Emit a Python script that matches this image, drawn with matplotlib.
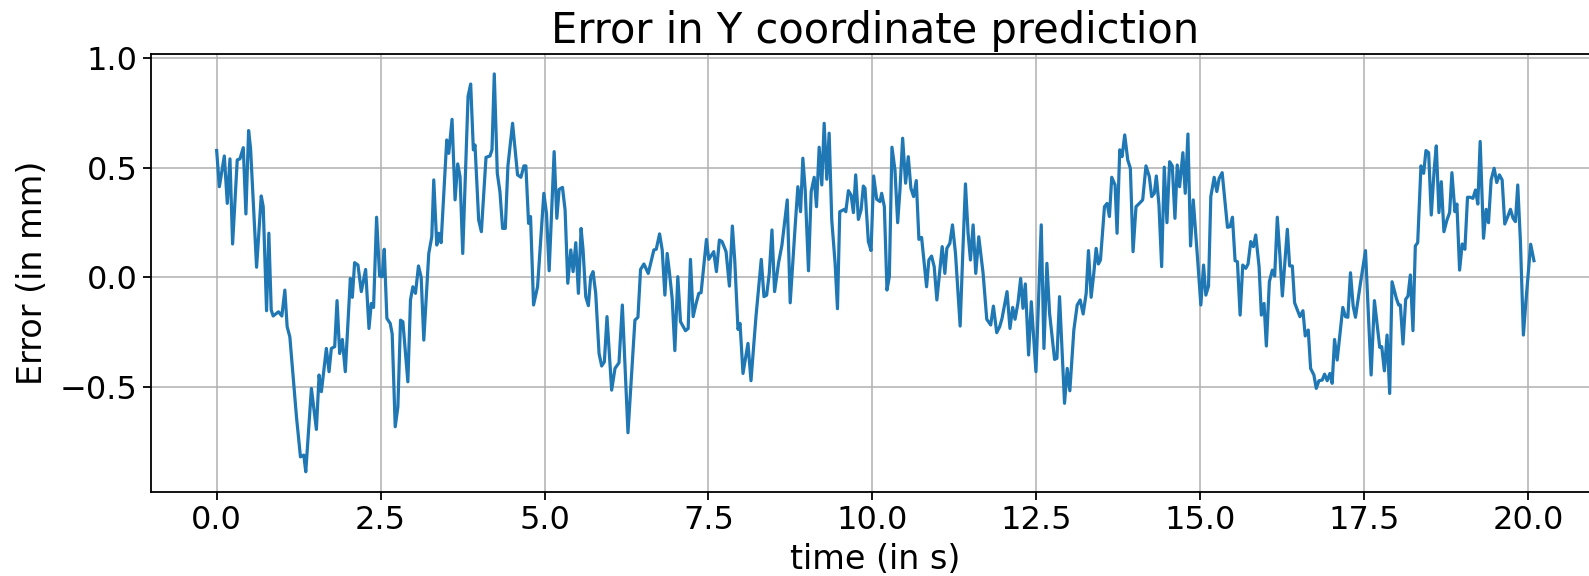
import matplotlib
matplotlib.use("Agg")
import matplotlib.pyplot as plt

# time (s) and error (mm)
t_s = [
    0.000, 0.041, 0.117, 0.162, 0.203, 0.243, 0.314, 0.355, 0.406, 0.446, 0.487, 0.517, 0.609, 0.680,
    0.710, 0.761, 0.796, 0.832, 0.862, 0.943, 0.994, 1.040, 1.075, 1.116, 1.217, 1.278, 1.329, 1.359,
    1.445, 1.521, 1.562, 1.597, 1.673, 1.714, 1.749, 1.800, 1.836, 1.876, 1.917, 1.962, 2.039, 2.069,
    2.104, 2.155, 2.206, 2.272, 2.323, 2.358, 2.393, 2.439, 2.485, 2.525, 2.556, 2.596, 2.647, 2.677,
    2.723, 2.764, 2.804, 2.840, 2.916, 2.956, 2.992, 3.032, 3.078, 3.119, 3.159,
    3.235, 3.281, 3.311, 3.357, 3.387, 3.423, 3.509, 3.540, 3.590, 3.636, 3.676, 3.712, 3.753, 3.834,
    3.874, 3.915, 3.940, 3.996, 4.037, 4.108, 4.168, 4.199, 4.234, 4.280, 4.320, 4.361, 4.402, 4.442,
    4.513, 4.589, 4.640, 4.686, 4.716, 4.757, 4.787, 4.833, 4.894, 4.990, 5.030, 5.071, 5.147, 5.188,
    5.223, 5.274, 5.314, 5.355, 5.401, 5.436, 5.477, 5.517, 5.558, 5.588, 5.629, 5.669, 5.705, 5.740,
    5.781, 5.832, 5.872, 5.913, 5.953, 6.024, 6.075, 6.136, 6.187, 6.273, 6.379, 6.425, 6.465, 6.516,
    6.582, 6.668, 6.704, 6.755, 6.795, 6.836, 6.871, 6.907, 6.947, 6.988, 7.033, 7.074, 7.150, 7.191,
    7.226, 7.267, 7.312, 7.353, 7.388, 7.470, 7.505, 7.581, 7.622, 7.667, 7.708, 7.769, 7.820, 7.865,
    7.901, 7.951, 7.982, 8.027, 8.073, 8.103, 8.149, 8.225, 8.306, 8.347, 8.388, 8.428, 8.469, 8.509,
    8.570, 8.621, 8.702, 8.747, 8.824, 8.864, 8.905, 8.940, 8.976, 9.026, 9.067, 9.113, 9.148, 9.189,
    9.229, 9.265, 9.305, 9.341, 9.381, 9.432, 9.468, 9.503, 9.574, 9.595, 9.635, 9.676, 9.711, 9.746,
    9.787, 9.828, 9.863,
    9.888, 9.939, 9.980, 10.020, 10.066, 10.117, 10.142, 10.183, 10.223, 10.259, 10.299, 10.345, 10.386,
    10.421, 10.462, 10.507, 10.548, 10.588, 10.629, 10.670, 10.710, 10.751, 10.827, 10.862, 10.903,
    10.943, 10.984, 11.065, 11.106, 11.136, 11.182, 11.222, 11.268, 11.339, 11.379, 11.420, 11.460,
    11.496, 11.537, 11.577, 11.623, 11.689, 11.745, 11.805, 11.846, 11.897, 11.942, 11.978, 12.054,
    12.099, 12.140, 12.176, 12.221, 12.262, 12.297, 12.333, 12.383, 12.424, 12.495, 12.576, 12.617,
    12.662, 12.703, 12.779, 12.815, 12.855, 12.931, 12.972, 13.012, 13.073, 13.124, 13.170, 13.215,
    13.261, 13.296, 13.337, 13.377, 13.413, 13.448, 13.479, 13.540, 13.580, 13.616, 13.651, 13.702,
    13.732, 13.773, 13.808, 13.849, 13.895, 13.935, 13.976, 14.021, 14.072, 14.123, 14.173, 14.224,
    14.260, 14.300, 14.331, 14.371, 14.412, 14.452, 14.493, 14.534, 14.574, 14.615, 14.650, 14.686,
    14.736, 14.772, 14.813, 14.853, 14.894, 14.934, 14.965, 15.010, 15.051, 15.086, 15.127, 15.162,
    15.213, 15.254, 15.289, 15.335, 15.416, 15.456, 15.492, 15.532, 15.568, 15.609, 15.649, 15.695,
    15.730, 15.771, 15.811, 15.847, 15.898, 15.933, 15.974, 16.009, 16.055, 16.100, 16.136, 16.176,
    16.217, 16.253, 16.329, 16.364, 16.405, 16.440, 16.521, 16.567,
    16.602, 16.648, 16.684, 16.734, 16.770, 16.811, 16.861, 16.897, 16.937, 16.978, 17.013, 17.049,
    17.089, 17.175, 17.216, 17.252, 17.292, 17.333, 17.368, 17.444, 17.521, 17.607, 17.657, 17.738,
    17.769, 17.809, 17.850, 17.890, 17.926, 17.992, 18.027, 18.053, 18.093, 18.134, 18.169, 18.205,
    18.245, 18.281, 18.317, 18.367, 18.408, 18.443, 18.484, 18.524, 18.570, 18.601, 18.641, 18.677,
    18.717, 18.763, 18.804, 18.839, 18.885, 18.915, 18.956, 18.996, 19.037, 19.077, 19.118, 19.159,
    19.199, 19.234, 19.270, 19.321, 19.361, 19.397, 19.437, 19.483, 19.523, 19.564, 19.605, 19.645,
    19.691, 19.732, 19.772, 19.808, 19.843, 19.884, 19.929, 19.965, 20.040, 20.090,
]

err_mm = [
    0.578, 0.413, 0.553, 0.337, 0.540, 0.152, 0.535, 0.540, 0.591, 0.289, 0.669, 0.588, 0.046, 0.371,
    0.322, -0.152, 0.201, -0.149, -0.176, -0.157, -0.176, -0.058, -0.225, -0.271, -0.635, -0.818, -0.810, -0.886,
    -0.506, -0.693, -0.445, -0.521, -0.324, -0.430, -0.324, -0.316, -0.106, -0.347, -0.283, -0.430, -0.005, -0.091,
    0.067, 0.056, -0.065, 0.036, -0.233, -0.119, -0.137, 0.274, 0.006, 0.003, 0.128, -0.187, -0.210, -0.258,
    -0.681, -0.590, -0.195, -0.202, -0.476, -0.103, -0.043, -0.073, 0.052, 0.000, -0.286,
    0.109, 0.185, 0.444, 0.147, 0.201, 0.158, 0.626, 0.565, 0.720, 0.353, 0.517, 0.459, 0.109, 0.824,
    0.881, 0.581, 0.603, 0.261, 0.208, 0.547, 0.553, 0.581, 0.927, 0.474, 0.391, 0.223, 0.223, 0.508,
    0.702, 0.467, 0.456, 0.508, 0.508, 0.246, 0.277, -0.126, -0.043, 0.383, 0.292, 0.030, 0.573, 0.269,
    0.401, 0.410, 0.307, -0.027, 0.125, 0.026, 0.158, -0.073, 0.223, 0.125, -0.088, -0.129, 0.003, 0.026,
    -0.073, -0.347, -0.404, -0.385, -0.179, -0.514, -0.415, -0.389, -0.126, -0.708, -0.195, -0.182, 0.036, 0.061,
    0.018, 0.125, 0.128, 0.198, 0.125, -0.081, 0.109, 0.018, -0.096, -0.334, 0.003, -0.202, -0.243, -0.233,
    0.082, -0.179, -0.119, -0.073, -0.070, 0.173, 0.082, 0.117, 0.026, 0.170, 0.163, 0.117, -0.040, 0.234,
    0.079, -0.237, -0.210, -0.438, -0.354, -0.301, -0.471, -0.179, 0.082, -0.088, -0.081, 0.018, 0.216, -0.065,
    0.067, 0.147, 0.353, -0.116, 0.239, 0.413, 0.299, 0.543, 0.398, 0.030, 0.391, 0.456, 0.322, 0.593,
    0.421, 0.702, 0.447, 0.657, 0.261, 0.064, -0.143, 0.299, 0.310, 0.299, 0.395, 0.375, 0.295, 0.467,
    0.264, 0.307, 0.416,
    0.406, 0.163, 0.122, 0.462, 0.356, 0.345, 0.383, 0.322, -0.058, 0.003, 0.593, 0.489, 0.249,
    0.398, 0.634, 0.429, 0.550, 0.406, 0.368, 0.441, 0.173, 0.182, -0.043, 0.079, 0.097,
    0.049, -0.103, 0.140, 0.018, 0.132, 0.155, 0.239, 0.109, -0.222, 0.109, 0.426, 0.201,
    0.079, 0.239, 0.018, 0.185, 0.018, -0.191, -0.217, -0.131, -0.252, -0.225, -0.187, -0.065,
    -0.233, -0.137, -0.191, -0.116, -0.005, -0.141, -0.030, -0.354, -0.111, -0.430, 0.239, -0.324,
    0.064, -0.164, -0.374, -0.369, -0.088, -0.574, -0.415, -0.517, -0.240, -0.126, -0.103, -0.167,
    -0.073, 0.122, -0.091, 0.018, 0.132, 0.061, 0.079, 0.322, 0.337, 0.277, 0.456, 0.421,
    0.201, 0.581, 0.550, 0.649, 0.535, 0.497, 0.117, 0.322, 0.337, 0.353, 0.508, 0.459,
    0.368, 0.383, 0.462, 0.330, 0.049, 0.502, 0.249, 0.527, 0.508, 0.269, 0.512, 0.413,
    0.568, 0.383, 0.653, 0.143, 0.353, 0.193, 0.064, -0.126, 0.056, -0.081, -0.040, 0.368,
    0.456, 0.391, 0.451, 0.477, 0.228, 0.231, 0.274, 0.076, 0.071, -0.172, 0.056, 0.041,
    0.061, 0.163, 0.140, 0.193, 0.049, -0.172, -0.119, -0.313, -0.020, 0.033, 0.006, 0.274,
    0.094, -0.085, 0.219, 0.052, 0.052, -0.116, -0.179, -0.152,
    -0.267, -0.240, -0.415, -0.445, -0.506, -0.471, -0.468, -0.441, -0.471, -0.438, -0.483, -0.283,
    -0.377, -0.137, -0.179, -0.182, 0.021, -0.131, -0.182, -0.027, 0.122, -0.445, -0.106, -0.319,
    -0.316, -0.426, -0.263, -0.529, -0.020, -0.096, -0.126, -0.126, -0.304, -0.100, -0.085, 0.011,
    -0.243, 0.143, 0.158, 0.508, 0.474, 0.578, 0.568, 0.284, 0.497, 0.599, 0.295, 0.436,
    0.208, 0.261, 0.295, 0.477, 0.299, 0.334, 0.033, 0.152, 0.128, 0.365, 0.365, 0.360,
    0.398, 0.334, 0.619, 0.178, 0.310, 0.249, 0.444, 0.497, 0.432, 0.467, 0.444, 0.243,
    0.277, 0.310, 0.269, 0.254, 0.421, 0.163, -0.263, -0.119, 0.151, 0.076,
]

fig = plt.figure(figsize=(15.89, 5.76), dpi=100)
# the original figure is cut off on the right, so the axes run past the edge
ax = fig.add_axes([0.0949, 0.1464, 0.9119, 0.7598])

ax.plot(t_s, err_mm, color='#1f77b4', linewidth=2.3)
ax.grid(True, color='#b0b0b0', linewidth=1.1)
ax.set_axisbelow(True)

ax.set_title('Error in Y coordinate prediction', fontsize=30, pad=8)
ax.set_xlabel('time (in s)', fontsize=24, labelpad=5)
ax.set_ylabel('Error (in mm)', fontsize=24, labelpad=8)
ax.tick_params(labelsize=23, length=6, width=1.3)
ax.set_xticks([0, 2.5, 5, 7.5, 10, 12.5, 15, 17.5, 20])
ax.set_yticks([-0.5, 0.0, 0.5, 1.0])
for s in ax.spines.values():
    s.set_linewidth(1.3)

fig.savefig('out.png', dpi=100)
